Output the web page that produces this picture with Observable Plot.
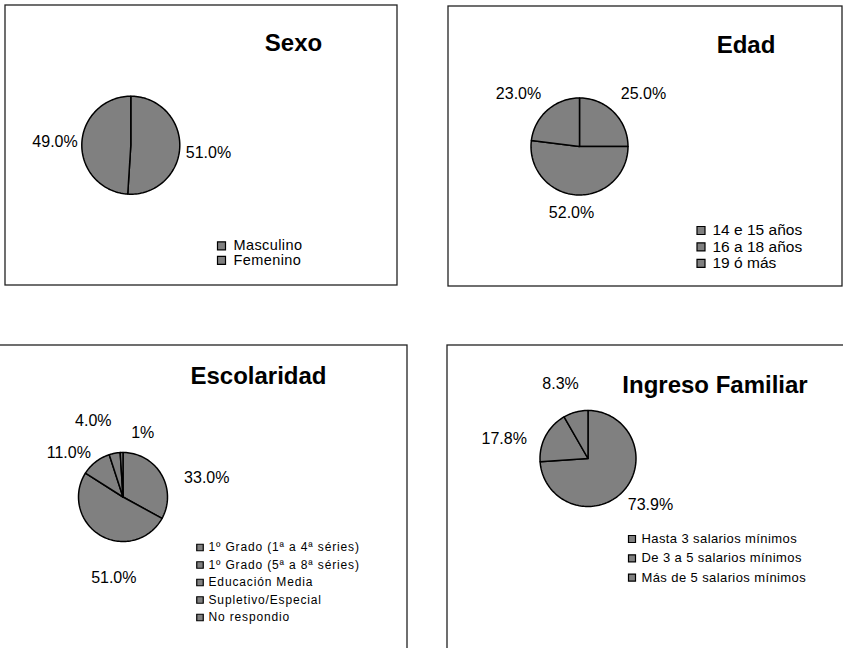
<!DOCTYPE html>
<html>
<head>
<meta charset="utf-8">
<script src="https://cdn.jsdelivr.net/npm/d3@7"></script>
<script src="https://cdn.jsdelivr.net/npm/@observablehq/plot@0.6"></script>
<style>
  body { margin: 0; background: #fff; }
  svg { display: block; }
</style>
</head>
<body>
<div id="chart"></div>
<script>
// ---- Data ----
const sexoCategories = ["Masculino", "Femenino"];
const sexoValues = [51.0, 49.0];
const sexoLabels = ["51.0%", "49.0%"];

const edadCategories = ["14 e 15 años", "16 a 18 años", "19 ó más"];
const edadValues = [25.0, 52.0, 23.0];
const edadLabels = ["25.0%", "52.0%", "23.0%"];

const escolaridadCategories = ["1º Grado (1ª a 4ª séries)", "1º Grado (5ª a 8ª séries)", "Educación Media", "Supletivo/Especial", "No respondio"];
const escolaridadValues = [33.0, 51.0, 11.0, 4.0, 1.0];
const escolaridadLabels = ["33.0%", "51.0%", "11.0%", "4.0%", "1%"];

const ingresoCategories = ["Hasta 3 salarios mínimos", "De 3 a 5 salarios mínimos", "Más de 5 salarios mínimos"];
const ingresoValues = [73.9, 17.8, 8.3];
const ingresoLabels = ["73.9%", "17.8%", "8.3%"];

const titles = ["Sexo", "Edad", "Escolaridad", "Ingreso Familiar"];

// ---- Layout (page pixel units) ----
const W = 843, H = 648;
const layouts = [
  {box: [5, 5, 397, 285], center: [130.3, 144.7], r: 49, title: [293, 43],
   legend: {sx: 221, tx: 233, y0: 245.3, step: 14.5, size: 14.5, sq: 8, spacing: 0.4},
   nudges: [[2.7, 5.7], [-0.8, -0.6]]},
  {box: [448, 6, 842, 286], center: [579, 146], r: 48.5, title: [745.5, 45],
   legend: {sx: 700.5, tx: 712, y0: 230, step: 16.4, size: 15.5, sq: 8, spacing: 0},
   nudges: [[11.3, 0], [-3.3, -8.4], [-11.7, 3.2]]},
  {box: [-10, 345, 407, 700], center: [122.5, 496.5], r: 44.5, title: [258, 376],
   legend: {sx: 199.5, tx: 208, y0: 547, step: 17.5, size: 12, sq: 6.5, spacing: 0.85},
   nudges: [[23.1, 16.4], [26.7, 20.3], [-11, 12], [-16.5, -6.9], [22, 6]]},
  {box: [447, 345, 900, 700], center: [587.5, 458], r: 48, title: [714.5, 385],
   legend: {sx: 631.5, tx: 641, y0: 538.5, step: 19.3, size: 13, sq: 7, spacing: 0.4},
   nudges: [[8.4, -4.3], [-18.5, 15.6], [-8.4, -2.7]]}
];

const series = [
  {cats: sexoCategories, values: sexoValues, labels: sexoLabels},
  {cats: edadCategories, values: edadValues, labels: edadLabels},
  {cats: escolaridadCategories, values: escolaridadValues, labels: escolaridadLabels},
  {cats: ingresoCategories, values: ingresoValues, labels: ingresoLabels}
];

// ---- Build mark data ----
const pie = d3.pie().sort(null).startAngle(0).endAngle(2 * Math.PI);
const slicePts = [], labelPts = [], boxes = [], titlePts = [], legendPts = [];
series.forEach((s, p) => {
  const L = layouts[p];
  const [cx, cy] = L.center;
  const arcs = pie(s.values);
  arcs.forEach((a, i) => {
    const key = p + "-" + i;
    slicePts.push({key, x: cx, y: cy});
    const n = Math.max(2, Math.ceil((a.endAngle - a.startAngle) / (Math.PI / 90)));
    for (let k = 0; k <= n; k++) {
      const t = a.startAngle + (a.endAngle - a.startAngle) * k / n;
      slicePts.push({key, x: cx + L.r * Math.sin(t), y: cy - L.r * Math.cos(t)});
    }
    const m = (a.startAngle + a.endAngle) / 2;
    const R = L.r + 26;
    labelPts.push({text: s.labels[i],
      x: cx + R * Math.sin(m) + L.nudges[i][0],
      y: cy - R * Math.cos(m) + L.nudges[i][1]});
    legendPts.push({panel: p, text: s.cats[i],
      sx: L.legend.sx, tx: L.legend.tx, y: L.legend.y0 + i * L.legend.step});
  });
  boxes.push({x1: L.box[0], y1: L.box[1], x2: L.box[2], y2: L.box[3]});
  titlePts.push({text: titles[p], x: L.title[0], y: L.title[1]});
});

const legendGroups = d3.groups(legendPts, d => d.panel);

const marks = [
  Plot.rect(boxes, {x1: "x1", x2: "x2", y1: "y1", y2: "y2", fill: "none", stroke: "#222", strokeWidth: 1.3}),
  Plot.line(slicePts, {x: "x", y: "y", z: "key", fill: "#808080", stroke: "#000", strokeWidth: 1.5, curve: "linear-closed", strokeLinejoin: "round"}),
  Plot.text(titlePts, {x: "x", y: "y", text: "text", fontSize: 24, fontWeight: "bold", fill: "#000", textAnchor: "middle", lineAnchor: "middle"}),
  Plot.text(labelPts, {x: "x", y: "y", text: "text", fontSize: 16, fill: "#000", textAnchor: "middle", lineAnchor: "middle"})
];
for (const [p, items] of legendGroups) {
  const lg = layouts[p].legend;
  marks.push(
    Plot.dot(items, {x: "sx", y: "y", symbol: "square", r: lg.sq / Math.sqrt(Math.PI), fill: "#808080", stroke: "#000", strokeWidth: 1.2}),
    Plot.text(items, {x: "tx", y: "y", text: "text", fontSize: lg.size, fill: "#000", textAnchor: "start", lineAnchor: "middle"})
  );
}

const chart = Plot.plot({
  width: W, height: H,
  margin: 0,
  x: {domain: [0, W], range: [0, W], axis: null},
  y: {domain: [0, H], range: [0, H], axis: null},
  style: {fontFamily: "'Liberation Sans', Arial, sans-serif", background: "#fff"},
  marks
});

// letter spacing for legend entries (as in the reference rendering)
const spacingByText = new Map();
series.forEach((s, p) => s.cats.forEach(c => spacingByText.set(c, layouts[p].legend.spacing)));
d3.select(chart).selectAll("text").each(function () {
  const sp = spacingByText.get(this.textContent);
  if (sp) this.style.letterSpacing = sp + "px";
});

document.getElementById("chart").appendChild(chart);
</script>
</body>
</html>
